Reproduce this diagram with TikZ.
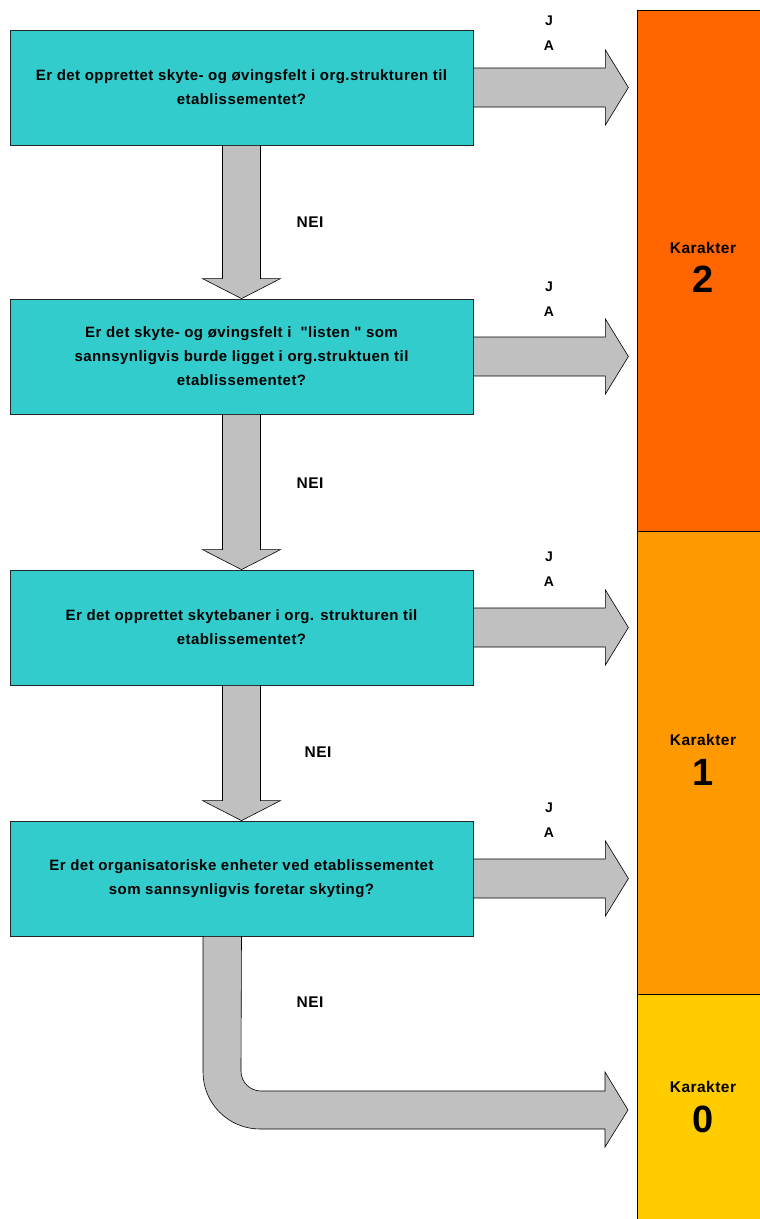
\documentclass[tikz,border=0pt]{standalone}
\usepackage{fontspec}
\setmainfont{Liberation Sans}[LetterSpace=3, Ligatures=TeXOff]
\usetikzlibrary{calc}
\definecolor{boxteal}{HTML}{33CCCC}
\definecolor{arrowgrey}{HTML}{C0C0C0}
\definecolor{grade2}{HTML}{FF6600}
\definecolor{grade1}{HTML}{FF9900}
\definecolor{grade0}{HTML}{FFCC00}
\tikzset{
  question/.style={draw=black!85, line width=0.8pt, fill=boxteal, minimum width=463pt,
    minimum height=115pt, align=center, inner sep=0pt,
    font=\bfseries\fontsize{15}{24}\selectfont},
  flowarrow/.style={draw=black, line width=0.6pt, fill=arrowgrey, line join=miter},
  answer/.style={font=\bfseries\fontsize{14}{25}\selectfont, align=center},
  nolabel/.style={font=\bfseries\fontsize{15.5}{18}\selectfont},
  gradelabel/.style={font=\bfseries\fontsize{15.5}{16}\selectfont},
  gradenum/.style={font=\bfseries\fontsize{38}{40}\selectfont}
}
\begin{document}
\begin{tikzpicture}[x=1pt,y=-1pt]
\useasboundingbox (0,0) rectangle (760,1219);
\clip (0,0) rectangle (760,1219);

% Grade column
\draw[fill=grade2, line width=0.8pt] (637,10) rectangle (765,531);
\draw[fill=grade1, line width=0.8pt] (637,531) rectangle (765,994);
\draw[fill=grade0, line width=0.8pt] (637,994) rectangle (765,1225);
\node[gradelabel] (k2) at (703,248) {Karakter};
\node[gradenum] (n2) at (703,279) {2};
\node[gradelabel] (k1) at (703,740) {Karakter};
\node[gradenum] (n1) at (703,772) {1};
\node[gradelabel] (k0) at (703,1087) {Karakter};
\node[gradenum] (n0) at (703,1119) {0};

% Questions
\node[question] (q1) at (241.5,87.5) {Er det opprettet skyte- og øvingsfelt i org.strukturen til\\etablissementet?};
\node[question] (q2) at (241.5,356.5) {Er det skyte- og øvingsfelt i \ "listen " som\\sannsynligvis burde ligget i org.struktuen til\\etablissementet?};
\node[question] (q3) at (241.5,627.5) {Er det opprettet skytebaner i org. strukturen til\\etablissementet?};
\node[question] (q4) at (241.5,878.5) {Er det organisatoriske enheter ved etablissementet\\som sannsynligvis foretar skyting?};

% JA arrows
\foreach \i in {1,...,4} {
  \coordinate (t\i) at ($(q\i.east)+(155,0)$);
  \draw[flowarrow] ($(q\i.east)+(0,-19.5)$) -- ($(t\i)+(-23,-19.5)$) -- ++(0,-18)
    -- (t\i) -- ++(-23,37.5) -- ++(0,-18) -- ($(q\i.east)+(0,19.5)$) -- cycle;
}
\node[answer] (ja1) at (549,33) {J\\A};
\node[answer] (ja2) at (549,299) {J\\A};
\node[answer] (ja3) at (549,569) {J\\A};
\node[answer] (ja4) at (549,820) {J\\A};

% NEI arrows
\foreach \i/\j in {1/2,2/3,3/4} {
  \draw[flowarrow] ($(q\i.south)+(-19,0)$) -- ($(q\j.north)+(-19,-20)$) -- ++(-20,0)
    -- (q\j.north) -- ++(39,-20) -- ++(-20,0) -- ($(q\i.south)+(19,0)$) -- cycle;
}
\node[nolabel] (nei1) at (310,222) {NEI};
\node[nolabel] (nei2) at (310,483) {NEI};
\node[nolabel] (nei3) at (318,752) {NEI};
\node[nolabel] (nei4) at (310,1002) {NEI};

% Last NEI arrow to grade 0
\coordinate (t0) at (628,1110);
\draw[flowarrow] ($(q4.south)+(-38.5,0)$) -- (203,1072)
  arc[start angle=180, end angle=90, radius=57] -- ($(t0)+(-23,19)$) -- ++(0,18)
  -- (t0) -- ++(-23,-38) -- ++(0,19) -- (261,1091)
  arc[start angle=90, end angle=180, radius=20] -- (q4.south) -- cycle;
\end{tikzpicture}
\end{document}
